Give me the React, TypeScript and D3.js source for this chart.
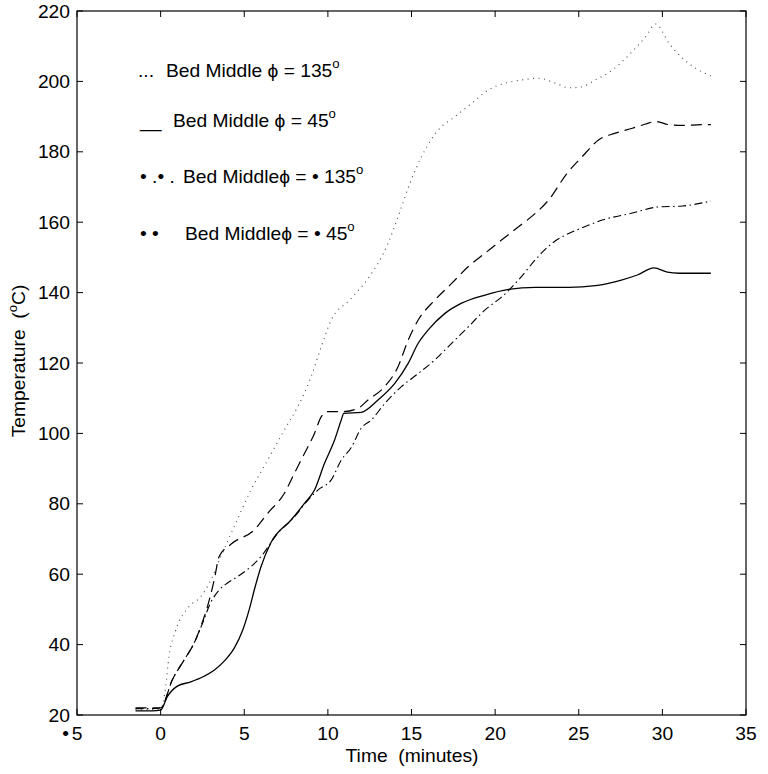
import React from "react";
import * as d3 from "d3";

// ---- data ----
const dottedTime = [-1.5, -0.5, 0, 0.3, 0.5, 0.9, 1.7, 2.4, 3.0, 3.6, 4.4, 5.4, 6.4, 7.4, 8.2, 9.0, 9.6, 10.2, 11.3, 12.4, 13.6, 14.2, 14.9, 15.6, 16.6, 17.6, 18.6, 19.6, 20.6, 21.6, 22.6, 23.6, 24.4, 25.0, 26, 27, 28, 29, 29.6, 30.4, 31.2, 32, 32.9];
const dottedTemp = [21.5, 21.5, 21.8, 28, 36.6, 44, 50.8, 53.6, 58.3, 65, 73.5, 83.9, 92.4, 101, 107.6, 116.1, 124.6, 132.2, 137.9, 144, 154, 161.6, 171, 178.6, 186.2, 190, 193.8, 197.6, 199.5, 200.4, 200.9, 199.5, 198.2, 198.3, 200.4, 203.2, 207.5, 212.7, 216.3, 210.8, 206.6, 203.7, 201.5];

const dashedTime = [-1.5, -0.5, 0, 0.7, 1.4, 2.0, 2.4, 2.8, 3.2, 3.5, 4.2, 5.6, 6.4, 7.4, 8.0, 8.6, 9.2, 9.6, 10.0, 10.9, 11.8, 12.4, 13.4, 14.2, 14.8, 15.4, 16.4, 17.4, 18.4, 19.4, 20.4, 21.4, 22.4, 23.2, 24.3, 25.2, 26.2, 27.2, 28.2, 29, 29.6, 30.4, 31.2, 32.4, 32.9];
const dashedTemp = [22, 22, 22, 30, 35.6, 40.4, 45.1, 50.8, 58.3, 65, 68.5, 72.6, 77.3, 83, 88.7, 94.3, 100, 104.7, 106.2, 106.2, 107.1, 109.5, 113.3, 119, 126.5, 132.2, 137.9, 142.6, 147.4, 151.2, 155, 158.7, 162.5, 166.3, 173.9, 178.6, 183.4, 185.3, 186.7, 187.9, 188.6, 187.7, 187.5, 187.7, 187.7];

const solidTime = [-1.5, -0.5, 0, 0.4, 1, 1.8, 2.6, 3.2, 3.8, 4.4, 4.9, 5.3, 5.6, 6, 6.6, 7.8, 8.6, 9.2, 9.8, 10.4, 10.8, 10.95, 12, 13, 14, 14.8, 15.4, 16, 17, 18, 19.4, 20.8, 22.4, 24.4, 26, 27.5, 28.5, 29.5, 30.3, 31, 32, 32.9];
const solidTemp = [21.2, 21.2, 21.4, 25.2, 28.2, 29.4, 31, 32.7, 35.3, 39, 44, 50, 55.5, 62.1, 69, 75.4, 80.1, 83.9, 91.5, 98.1, 103.8, 105.7, 106, 109.5, 114.2, 119.9, 125.6, 129.4, 134.1, 137, 139.3, 140.9, 141.5, 141.5, 142, 143.5, 145, 147, 145.8, 145.5, 145.5, 145.5];

const dashDotTime = [-1.5, -0.5, 0, 0.7, 1.4, 2.0, 2.5, 3.0, 3.5, 4.0, 4.6, 6.0, 7.0, 8.0, 8.8, 9.4, 10.2, 10.8, 11.4, 12.0, 12.6, 13.4, 14.4, 15.4, 16.4, 17.4, 18.4, 19.4, 20.4, 21.4, 22.4, 23.4, 24.4, 25.2, 26.4, 28.2, 29.7, 31.2, 32.9];
const dashDotTemp = [21.8, 21.8, 22, 30, 35.6, 40.4, 46, 52, 55.5, 57.5, 59.3, 65, 71.6, 76.3, 81, 83.9, 86.8, 92.4, 96, 101.5, 103.8, 108.5, 113.3, 117, 120.9, 125.6, 130.3, 135.1, 138.8, 143.6, 149.3, 154, 156.8, 158.4, 160.6, 162.6, 164.3, 164.6, 166];

const xTicks = [-5, 0, 5, 10, 15, 20, 25, 30, 35];
const yTicks = [20, 40, 60, 80, 100, 120, 140, 160, 180, 200, 220];

const legendMarkers = ["...", "__", "\u2022 .\u2022 .", "\u2022 \u2022"];
const legendLabels = ["Bed Middle \u03D5 = 135", "Bed Middle \u03D5 = 45", "Bed Middle\u03D5 = \u2022 135", "Bed Middle\u03D5 = \u2022 45"];

// ---- layout ----
const W = 768, H = 774;
const L = 77, R = 746, T = 11, B = 715;
const FONT = "'Liberation Sans', Arial, Helvetica, 'DejaVu Sans', sans-serif";
const FS = 17.5;
const SX = 1.1;

const x = d3.scaleLinear().domain([-5, 35]).range([L, R]);
const y = d3.scaleLinear().domain([20, 220]).range([B, T]);

const mkLine = (ts: number[], vs: number[]) =>
  d3.line<number>().x((_, i) => x(ts[i])).y((v) => y(v)).curve(d3.curveMonotoneX)(vs) || "";

function Txt({ x: tx, y: ty, anchor = "start", rotate = 0, size = FS, children }: any) {
  return (
    <text
      transform={`translate(${tx},${ty}) rotate(${rotate}) scale(${SX},1)`}
      textAnchor={anchor}
      fontFamily={FONT}
      fontSize={size}
      fill="#000"
      style={{ whiteSpace: "pre" }}
    >
      {children}
    </text>
  );
}

export default function App() {
  const series = [
    { d: mkLine(dottedTime, dottedTemp), dash: "1 4.5", w: 1.1, c: "#444" },
    { d: mkLine(dashedTime, dashedTemp), dash: "11 6", w: 1.2, c: "#000" },
    { d: mkLine(solidTime, solidTemp), dash: "none", w: 1.3, c: "#000" },
    { d: mkLine(dashDotTime, dashDotTemp), dash: "8 3.5 1.5 3.5", w: 1.1, c: "#000" },
  ];
  const legendY = [77, 127, 183, 240];
  const markerX = [138, 140, 140, 140];
  const labelX = [166, 173, 183, 185];
  return (
    <svg width={W} height={H} style={{ position: "absolute", left: 0, top: 0, background: "#fff" }}>
      <rect x={0} y={0} width={W} height={H} fill="#fff" />
      {series.map((s, i) => (
        <path key={i} d={s.d} fill="none" stroke={s.c} strokeWidth={s.w} strokeDasharray={s.dash} />
      ))}
      {/* box */}
      <rect x={L} y={T} width={R - L} height={B - T} fill="none" stroke="#000" strokeWidth={1.2} />
      {xTicks.map((v) => (
        <g key={"x" + v}>
          <line x1={x(v)} x2={x(v)} y1={B} y2={B - 6} stroke="#000" />
          <line x1={x(v)} x2={x(v)} y1={T} y2={T + 6} stroke="#000" />
          {v < 0 ? (
            <g>
              <Txt x={x(v)} y={740} anchor="middle">{String(Math.abs(v))}</Txt>
              <Txt x={x(v) - 8} y={740} anchor="end">{"\u2022"}</Txt>
            </g>
          ) : (
            <Txt x={x(v)} y={740} anchor="middle">{String(v)}</Txt>
          )}
        </g>
      ))}
      {yTicks.map((v) => (
        <g key={"y" + v}>
          <line x1={L} x2={L + 6} y1={y(v)} y2={y(v)} stroke="#000" />
          <line x1={R} x2={R - 6} y1={y(v)} y2={y(v)} stroke="#000" />
          <Txt x={70} y={y(v) + 6.5} anchor="end">{String(v)}</Txt>
        </g>
      ))}
      {/* axis labels */}
      <Txt x={412} y={762} anchor="middle">{"Time  (minutes)"}</Txt>
      <Txt x={25} y={361} anchor="middle" rotate={-90}>
        {"Temperature  ("}<tspan fontSize={12} dy={-8}>o</tspan><tspan dy={8}>C)</tspan>
      </Txt>
      {/* legend */}
      {legendLabels.map((lab, i) => (
        <g key={"lg" + i}>
          <Txt x={markerX[i]} y={legendY[i]}>{legendMarkers[i]}</Txt>
          <Txt x={labelX[i]} y={legendY[i]}>
            {lab}
            <tspan fontSize={12} dy={-9}>o</tspan>
          </Txt>
        </g>
      ))}
    </svg>
  );
}
